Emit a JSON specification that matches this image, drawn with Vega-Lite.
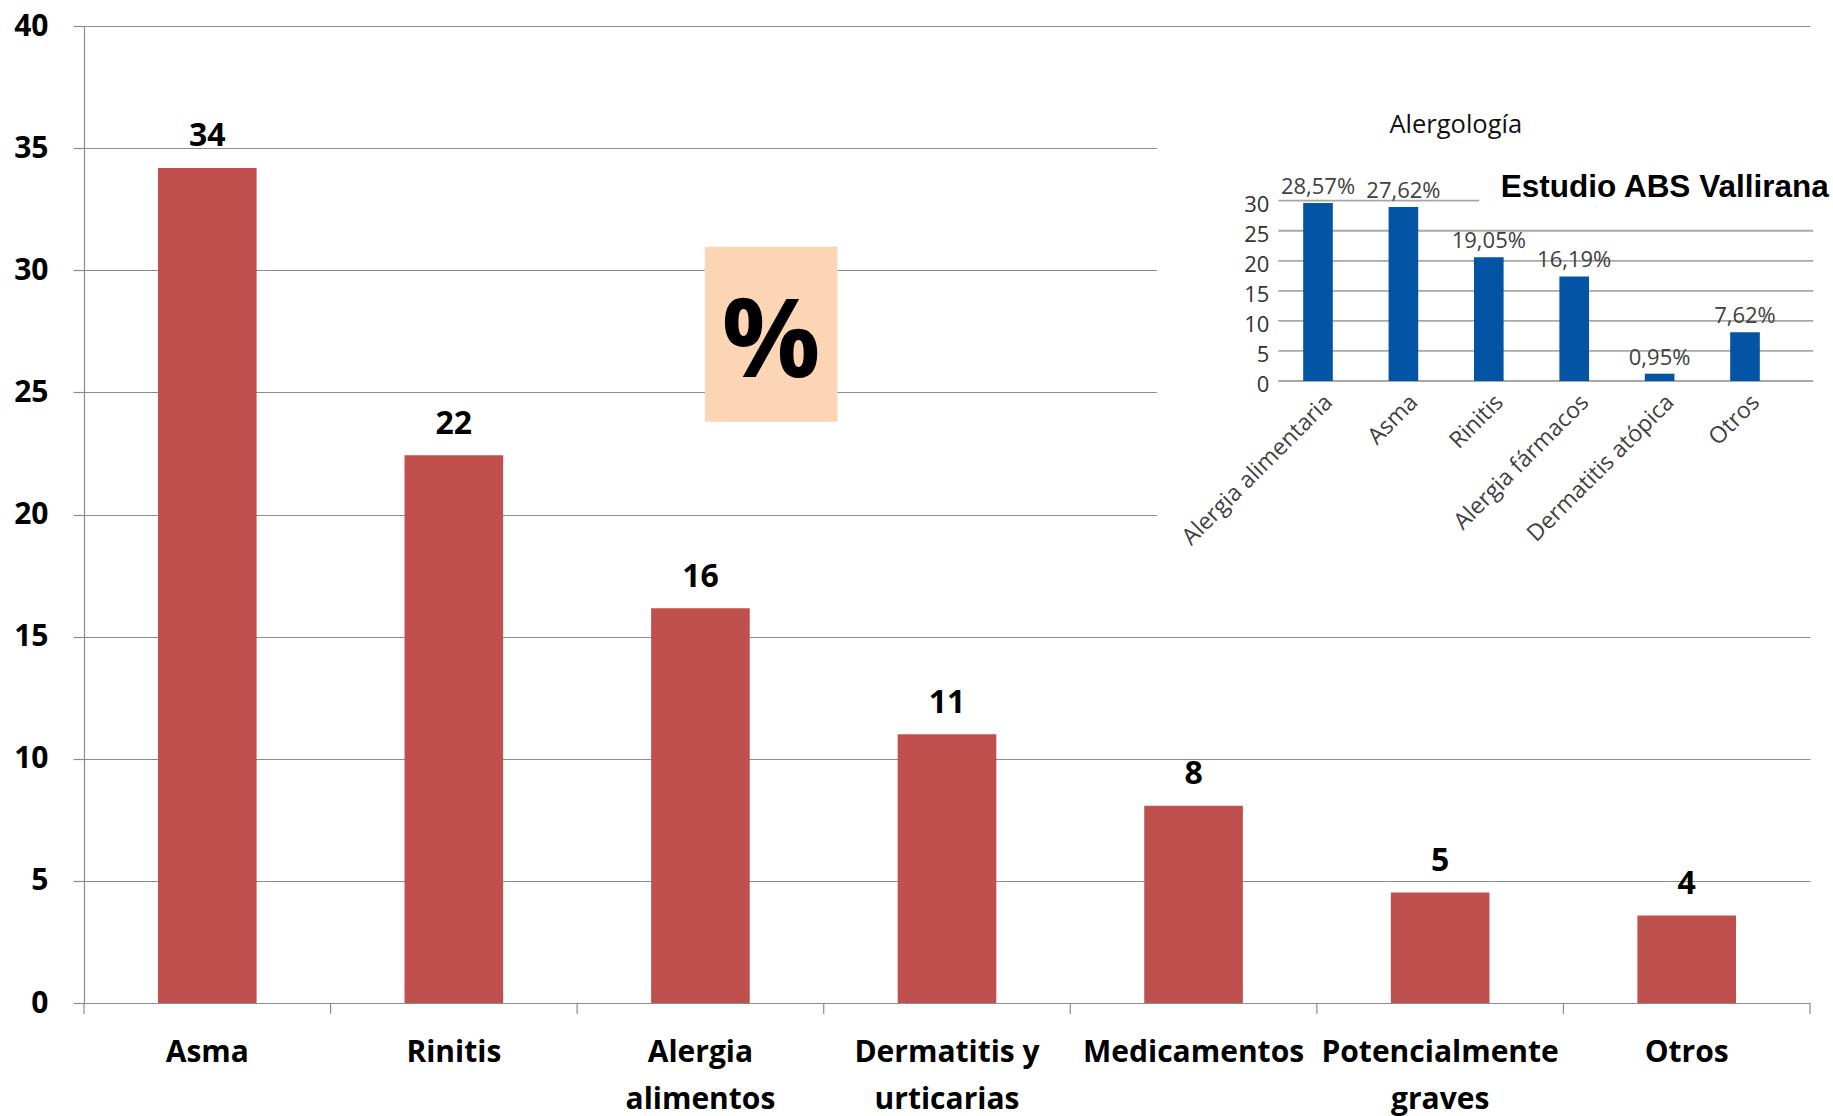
{
  "$schema": "https://vega.github.io/schema/vega-lite/v6.json",
  "width": 1726,
  "height": 977,
  "autosize": {"type": "none"},
  "padding": {"left": 84, "top": 26, "right": 23, "bottom": 113},
  "background": "white",
  "config": {"view": {"stroke": null}, "font": "Open Sans"},
  "datasets": {
    "barsData": [
      {"cat": "Asma", "v": 34.19},
      {"cat": "Rinitis", "v": 22.43},
      {"cat": "Alergia alimentos", "v": 16.16},
      {"cat": "Dermatitis y urticarias", "v": 11.0},
      {"cat": "Medicamentos", "v": 8.08},
      {"cat": "Potencialmente graves", "v": 4.52},
      {"cat": "Otros", "v": 3.58}
    ],
    "insetData": [
      {"cat": "Alergia alimentaria", "v": 29.6, "pct": "28,57%"},
      {"cat": "Asma", "v": 28.95, "pct": "27,62%"},
      {"cat": "Rinitis", "v": 20.6, "pct": "19,05%"},
      {"cat": "Alergia fármacos", "v": 17.4, "pct": "16,19%"},
      {"cat": "Dermatitis atópica", "v": 1.22, "pct": "0,95%"},
      {"cat": "Otros", "v": 8.13, "pct": "7,62%"}
    ],
    "insetTicks": [{"t": 0}, {"t": 5}, {"t": 10}, {"t": 15}, {"t": 20}, {"t": 25}, {"t": 30}],
    "single": [{}]
  },
  "layer": [
    {
      "data": {"name": "barsData"},
      "mark": {"type": "bar", "color": "#C0504D", "width": {"band": 0.4}},
      "encoding": {
        "x": {"field": "cat", "type": "nominal", "sort": null, "scale": {"paddingInner": 0, "paddingOuter": 0}, "axis": null},
        "y": {
          "field": "v", "type": "quantitative",
          "scale": {"domain": [0, 40], "nice": false},
          "axis": {
            "orient": "left",
            "title": null, "values": [0, 5, 10, 15, 20, 25, 30, 35, 40],
            "domainColor": "#8c8c8c", "domainWidth": 1.2, "tickColor": "#8c8c8c",
            "tickWidth": 1.2, "tickSize": 11, "labelFont": "Open Sans",
            "labelFontWeight": "bold", "labelFontSize": 30, "labelColor": "black",
            "labelPadding": 25, "grid": true, "gridColor": "#8c8c8c", "gridWidth": 1.2
          }
        }
      }
    },
    {
      "data": {"name": "barsData"},
      "mark": {"type": "text", "dy": -21.5, "baseline": "alphabetic", "fontSize": 32, "fontWeight": "bold", "font": "Open Sans", "color": "black"},
      "encoding": {
        "x": {"field": "cat", "type": "nominal", "sort": null, "scale": {"paddingInner": 0, "paddingOuter": 0}, "axis": null},
        "y": {"field": "v", "type": "quantitative", "scale": {"domain": [0, 40], "nice": false}, "axis": null},
        "text": {"field": "v", "type": "quantitative", "format": ".0f"}
      }
    },
    {
      "data": {"name": "barsData"},
      "layer": [
        {
          "transform": [{"calculate": "lastindexof(datum.cat, ' ') < 0 ? [datum.cat] : [slice(datum.cat, 0, lastindexof(datum.cat, ' ')), slice(datum.cat, lastindexof(datum.cat, ' ') + 1)]", "as": "lbl"}],
          "mark": {"type": "text", "baseline": "top", "align": "center", "yOffset": 35, "lineHeight": 46.5, "fontSize": 30, "fontWeight": "bold", "font": "Open Sans", "color": "black"},
          "encoding": {
            "x": {"field": "cat", "type": "nominal", "sort": null, "scale": {"paddingInner": 0, "paddingOuter": 0}, "axis": null},
            "y": {"datum": 0, "type": "quantitative", "scale": {"domain": [0, 40], "nice": false}, "axis": null},
            "text": {"field": "lbl"}
          }
        },
        {
          "mark": {"type": "rule", "color": "#8c8c8c", "strokeWidth": 1.2},
          "encoding": {
            "x": {"field": "cat", "type": "nominal", "sort": null, "bandPosition": 0, "axis": null},
            "y": {"datum": 0, "type": "quantitative", "axis": null},
            "y2": {"datum": -0.45}
          }
        },
        {
          "data": {"name": "single"},
          "mark": {"type": "rule", "color": "#8c8c8c", "strokeWidth": 1.2},
          "encoding": {
            "x": {"datum": "Otros", "type": "nominal", "bandPosition": 1, "axis": null},
            "y": {"datum": 0, "type": "quantitative", "axis": null},
            "y2": {"datum": -0.45}
          }
        }
      ]
    },
    {
      "data": {"name": "single"},
      "layer": [
        {
          "mark": {"type": "rect", "color": "white"},
          "encoding": {
            "x": {"datum": 4.351, "type": "quantitative", "scale": {"domain": [0, 7], "nice": false, "zero": false}, "axis": null},
            "x2": {"datum": 7.1},
            "y": {"datum": 39.4, "type": "quantitative", "scale": {"domain": [0, 40], "nice": false}, "axis": null},
            "y2": {"datum": 18.1}
          }
        },
        {
          "mark": {"type": "rect", "color": "#FCD5B5"},
          "encoding": {
            "x": {"datum": 2.518, "type": "quantitative", "axis": null},
            "x2": {"datum": 3.056},
            "y": {"datum": 30.96, "type": "quantitative", "axis": null},
            "y2": {"datum": 23.8}
          }
        },
        {
          "mark": {"type": "text", "text": "%", "fontSize": 110, "fontWeight": "bold", "font": "Open Sans", "baseline": "middle", "align": "center", "color": "black"},
          "encoding": {
            "x": {"datum": 2.786, "type": "quantitative", "axis": null},
            "y": {"datum": 27.0, "type": "quantitative", "axis": null}
          }
        }
      ]
    },
    {
      "layer": [
        {
          "data": {"name": "insetTicks"},
          "transform": [{"filter": "datum.t < 30"}],
          "mark": {"type": "rule", "color": "#a8a8a8", "strokeWidth": 1.8, "xOffset": 3, "x2Offset": 68.3},
          "encoding": {
            "x": {"datum": "Alergia alimentaria", "type": "nominal", "bandPosition": 0,
                  "scale": {"domain": ["Alergia alimentaria", "Asma", "Rinitis", "Alergia fármacos", "Dermatitis atópica", "Otros"], "range": [1191.3, 1703.7], "paddingInner": 0, "paddingOuter": 0},
                  "axis": null},
            "x2": {"datum": "Otros"},
            "y": {"field": "t", "type": "quantitative", "scale": {"domain": [-103.49, 59.07], "nice": false, "zero": false}, "axis": null}
          }
        },
        {
          "data": {"name": "insetTicks"},
          "transform": [{"filter": "datum.t == 30"}],
          "mark": {"type": "rule", "color": "#a8a8a8", "strokeWidth": 1.8, "xOffset": 3, "x2Offset": -9.6},
          "encoding": {
            "x": {"datum": "Alergia alimentaria", "type": "nominal", "bandPosition": 0, "axis": null},
            "x2": {"datum": "Rinitis"},
            "y": {"field": "t", "type": "quantitative", "axis": null}
          }
        },
        {
          "data": {"name": "insetTicks"},
          "mark": {"type": "text", "align": "right", "baseline": "middle", "dy": 4, "xOffset": -6, "fontSize": 22, "font": "Open Sans", "color": "#333333"},
          "encoding": {
            "x": {"datum": "Alergia alimentaria", "type": "nominal", "bandPosition": 0, "axis": null},
            "y": {"field": "t", "type": "quantitative", "axis": null},
            "text": {"field": "t", "type": "quantitative"}
          }
        },
        {
          "data": {"name": "insetData"},
          "mark": {"type": "bar", "color": "#0354A4", "width": {"band": 0.347}},
          "encoding": {
            "x": {"field": "cat", "type": "nominal", "sort": null, "axis": null},
            "y": {"field": "v", "type": "quantitative", "axis": null}
          }
        },
        {
          "data": {"name": "insetData"},
          "mark": {"type": "text", "baseline": "alphabetic", "dy": -9, "fontSize": 22, "font": "Open Sans", "color": "#404040"},
          "encoding": {
            "x": {"field": "cat", "type": "nominal", "sort": null, "axis": null},
            "y": {"field": "v", "type": "quantitative", "axis": null},
            "text": {"field": "pct", "type": "nominal"}
          }
        },
        {
          "data": {"name": "insetData"},
          "mark": {"type": "text", "angle": -45, "align": "right", "baseline": "top", "xOffset": 3, "yOffset": 10, "fontSize": 23, "font": "Open Sans", "color": "#404040"},
          "encoding": {
            "x": {"field": "cat", "type": "nominal", "sort": null, "axis": null},
            "y": {"datum": 0, "type": "quantitative", "axis": null},
            "text": {"field": "cat", "type": "nominal"}
          }
        },
        {
          "data": {"name": "single"},
          "mark": {"type": "text", "text": "Alergología", "align": "center", "baseline": "alphabetic", "xOffset": 9.7, "fontSize": 25.5, "font": "Open Sans", "color": "#111111"},
          "encoding": {
            "x": {"datum": "Asma", "type": "nominal", "bandPosition": 1, "axis": null},
            "y": {"datum": 41.2, "type": "quantitative", "axis": null}
          }
        },
        {
          "data": {"name": "single"},
          "mark": {"type": "text", "text": "Estudio ABS Vallirana", "align": "left", "baseline": "alphabetic", "xOffset": 12, "fontSize": 31.5, "font": "Liberation Sans", "fontWeight": "bold", "color": "black"},
          "encoding": {
            "x": {"datum": "Rinitis", "type": "nominal", "axis": null},
            "y": {"datum": 30.7, "type": "quantitative", "axis": null}
          }
        }
      ]
    }
  ],
  "resolve": {"scale": {"x": "independent", "y": "independent"}}
}
